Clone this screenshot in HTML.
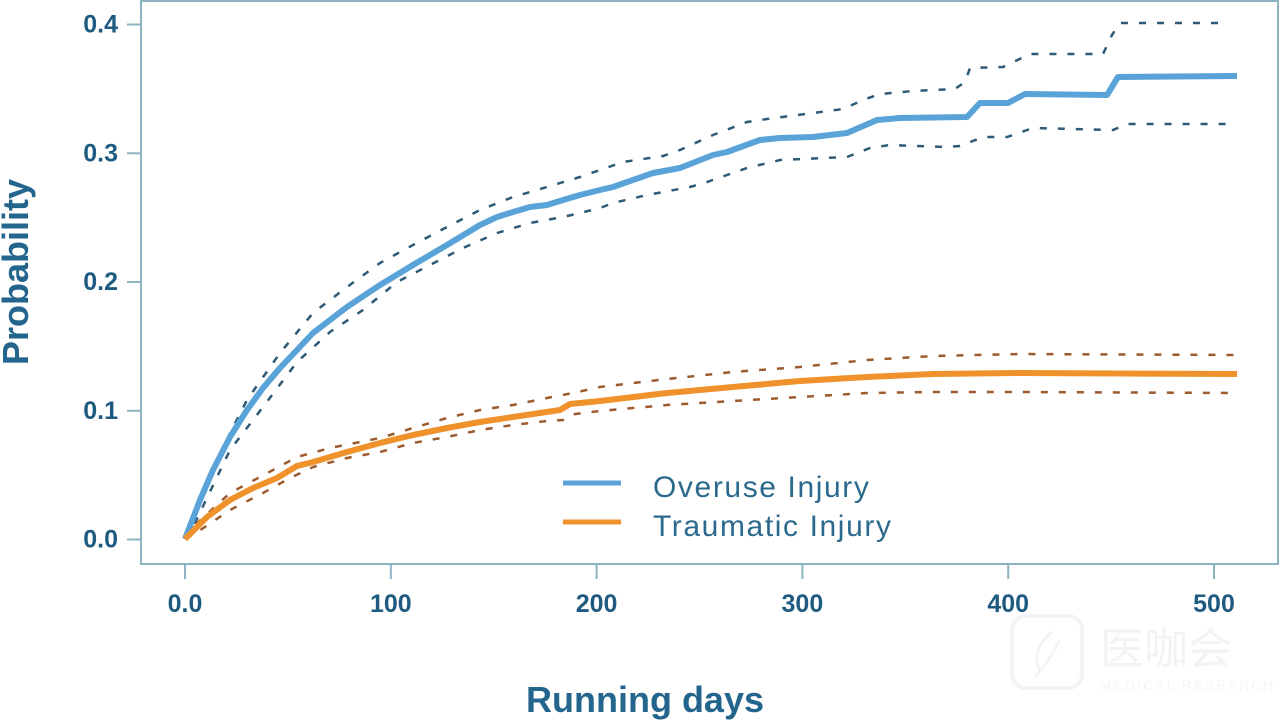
<!DOCTYPE html>
<html>
<head>
<meta charset="utf-8">
<style>
  html, body { margin: 0; padding: 0; background: #ffffff; }
  body { width: 1280px; height: 721px; overflow: hidden; }
  svg { display: block; }
  text { font-family: "Liberation Sans", "Noto Sans CJK SC", sans-serif; }
</style>
</head>
<body>
<svg width="1280" height="721" viewBox="0 0 1280 721" xmlns="http://www.w3.org/2000/svg">
  <rect x="0" y="0" width="1280" height="721" fill="#ffffff"/>

  <!-- watermark -->
  <g opacity="0.75">
    <rect x="1012" y="616" width="70" height="72" rx="14" fill="none" stroke="#eef0f2" stroke-width="4"/>
    <path d="M1052 632 Q1030 650 1040 672 M1060 640 Q1050 660 1036 676" fill="none" stroke="#eef0f2" stroke-width="3"/>
    <text x="1100" y="664" font-size="44" fill="#edeff1">医咖会</text>
    <text x="1100" y="690" font-size="14" fill="#f0f2f3" letter-spacing="2">MEDICAL RESEARCH</text>
  </g>

  <!-- plot frame -->
  <rect x="141" y="1" width="1137" height="563" fill="none" stroke="#8db3c1" stroke-width="2"/>

  <!-- y ticks -->
  <g stroke="#8db3c1" stroke-width="2">
    <line x1="127" y1="24.5" x2="141" y2="24.5"/>
    <line x1="127" y1="153.3" x2="141" y2="153.3"/>
    <line x1="127" y1="282" x2="141" y2="282"/>
    <line x1="127" y1="410.8" x2="141" y2="410.8"/>
    <line x1="127" y1="539.5" x2="141" y2="539.5"/>
  </g>
  <!-- x ticks -->
  <g stroke="#8db3c1" stroke-width="2">
    <line x1="185" y1="564" x2="185" y2="579"/>
    <line x1="390.8" y1="564" x2="390.8" y2="579"/>
    <line x1="596.6" y1="564" x2="596.6" y2="579"/>
    <line x1="802.4" y1="564" x2="802.4" y2="579"/>
    <line x1="1008.2" y1="564" x2="1008.2" y2="579"/>
    <line x1="1214" y1="564" x2="1214" y2="579"/>
  </g>

  <!-- y tick labels -->
  <g font-size="25" font-weight="bold" fill="#1f5b80" text-anchor="end">
    <text x="118" y="32.5">0.4</text>
    <text x="118" y="161.5">0.3</text>
    <text x="118" y="290">0.2</text>
    <text x="118" y="419">0.1</text>
    <text x="118" y="547.5">0.0</text>
  </g>
  <!-- x tick labels -->
  <g font-size="25" font-weight="bold" fill="#1f5b80" text-anchor="middle">
    <text x="185" y="612">0.0</text>
    <text x="390.8" y="612">100</text>
    <text x="596.6" y="612">200</text>
    <text x="802.4" y="612">300</text>
    <text x="1008.2" y="612">400</text>
    <text x="1214" y="612">500</text>
  </g>

  <!-- axis titles -->
  <text x="645" y="712" font-size="36" font-weight="bold" fill="#24658d" text-anchor="middle">Running days</text>
  <text transform="translate(28,272) rotate(-90)" x="0" y="0" font-size="36" font-weight="bold" fill="#24658d" text-anchor="middle">Probability</text>

  <!-- Overuse CI -->
  <g fill="none" stroke="#2d5a77" stroke-width="2.5" stroke-dasharray="7 11">
    <polyline points="185,539 193,517 220,453 247,400 280,353 313,313 347,287 380,263 413,245 447,227 480,210 513,197 547,187 570,180 580,177 623,162 663,156 680,150 713,135 747,122 767,119 813,113 843,109 863,100 880,94 913,91 955,89 965,82 970,68 1003,67 1030,54 1103,54 1112,35 1120,23 1228,23"/>
    <polyline points="185,539 193,527 230,450 263,407 297,362 330,332 363,310 397,282 430,265 463,248 497,233 530,223 563,217 580,213 600,208 613,203 647,195 690,187 707,182 747,168 780,160 847,157 870,148 890,145 947,147 960,146 983,137 1007,137 1033,128 1113,130 1127,124 1232,124"/>
  </g>

  <!-- Traumatic CI -->
  <g fill="none" stroke="#9c5b2e" stroke-width="2.5" stroke-dasharray="7 11">
    <polyline points="185,539 193,527 230,493 273,470 297,457 330,448 380,438 413,428 447,418 480,410 513,405 547,398 573,393 600,387 667,379 733,372 800,367 867,360 933,356 1020,354 1237,355"/>
    <polyline points="185,539 193,535 230,510 263,493 290,478 313,467 347,458 380,452 413,443 447,437 480,430 513,425 547,421 563,420 575,414 600,411 667,405 733,401 800,397 867,393 933,392 1020,392 1237,393"/>
  </g>

  <!-- Overuse main -->
  <polyline fill="none" stroke="#5aa3d8" stroke-width="6" stroke-linejoin="round" stroke-linecap="butt"
    points="185,539 200,500 213,470 230,437 247,410 263,388 280,368 297,350 313,333 330,320 347,307 380,285 413,265 447,245 480,225 497,217 513,212 530,207 547,205 563,200 580,195 600,190 613,187 653,173 680,168 713,155 727,152 760,140 780,138 813,137 847,133 877,120 900,118 967,117 980,103 1008,103 1025,94 1107,95 1118,77 1237,76"/>

  <!-- Traumatic main -->
  <polyline fill="none" stroke="#f0922c" stroke-width="6" stroke-linejoin="round" stroke-linecap="butt"
    points="185,539 207,517 230,500 253,488 277,478 287,472 297,466 313,462 347,452 380,443 413,435 447,428 480,422 513,417 560,410 570,404 600,401 667,393 733,387 800,381 867,377 933,374 1020,373 1237,374"/>

  <!-- legend -->
  <line x1="563" y1="483" x2="621" y2="483" stroke="#5aa3d8" stroke-width="5"/>
  <line x1="563" y1="522" x2="621" y2="522" stroke="#f0922c" stroke-width="5"/>
  <text x="653" y="497" font-size="30" fill="#2b6a8d" letter-spacing="1.6">Overuse Injury</text>
  <text x="653" y="536" font-size="30" fill="#2b6a8d" letter-spacing="1.6">Traumatic Injury</text>
</svg>
</body>
</html>
